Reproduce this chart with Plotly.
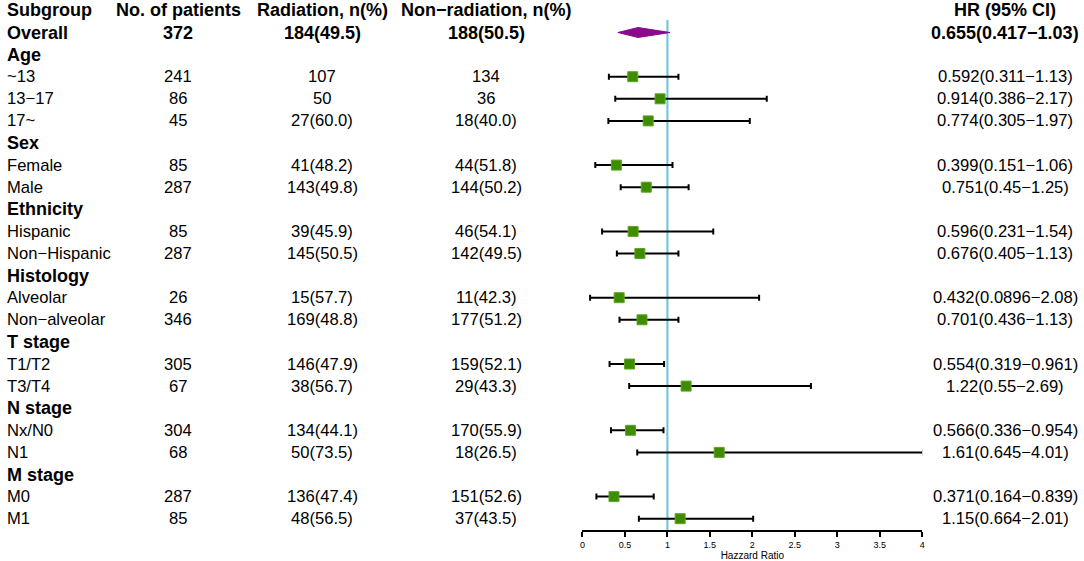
import plotly.graph_objects as go

# ---------------- data ----------------
headers = ["Subgroup", "No. of patients", "Radiation, n(%)", "Non\u2212radiation, n(%)", "HR (95% CI)"]

subgroups = ["Overall", "Age", "~13", "13\u221217", "17~", "Sex", "Female", "Male",
             "Ethnicity", "Hispanic", "Non\u2212Hispanic", "Histology", "Alveolar", "Non\u2212alveolar",
             "T stage", "T1/T2", "T3/T4", "N stage", "Nx/N0", "N1", "M stage", "M0", "M1"]
is_group = [False, True, False, False, False, True, False, False,
            True, False, False, True, False, False,
            True, False, False, True, False, False, True, False, False]
patients = ["372", "", "241", "86", "45", "", "85", "287",
            "", "85", "287", "", "26", "346",
            "", "305", "67", "", "304", "68", "", "287", "85"]
radiation = ["184(49.5)", "", "107", "50", "27(60.0)", "", "41(48.2)", "143(49.8)",
             "", "39(45.9)", "145(50.5)", "", "15(57.7)", "169(48.8)",
             "", "146(47.9)", "38(56.7)", "", "134(44.1)", "50(73.5)", "", "136(47.4)", "48(56.5)"]
nonradiation = ["188(50.5)", "", "134", "36", "18(40.0)", "", "44(51.8)", "144(50.2)",
                "", "46(54.1)", "142(49.5)", "", "11(42.3)", "177(51.2)",
                "", "159(52.1)", "29(43.3)", "", "170(55.9)", "18(26.5)", "", "151(52.6)", "37(43.5)"]
hr = [0.655, None, 0.592, 0.914, 0.774, None, 0.399, 0.751,
      None, 0.596, 0.676, None, 0.432, 0.701,
      None, 0.554, 1.22, None, 0.566, 1.61, None, 0.371, 1.15]
lower = [0.417, None, 0.311, 0.386, 0.305, None, 0.151, 0.45,
         None, 0.231, 0.405, None, 0.0896, 0.436,
         None, 0.319, 0.55, None, 0.336, 0.645, None, 0.164, 0.664]
upper = [1.03, None, 1.13, 2.17, 1.97, None, 1.06, 1.25,
         None, 1.54, 1.13, None, 2.08, 1.13,
         None, 0.961, 2.69, None, 0.954, 4.01, None, 0.839, 2.01]

x_ticks = [0, 0.5, 1, 1.5, 2, 2.5, 3, 3.5, 4]
x_ticktext = ["0", "0.5", "1", "1.5", "2", "2.5", "3", "3.5", "4"]

# ---------------- layout constants ----------------
W, H = 1084, 561
FONT = "Liberation Sans, Arial, sans-serif"
NORMAL = 16.6
BOLD = 18
col_x = [2, 176, 321, 486, 1008]          # pixel positions of columns
col_anchor = ["left", "center", "center", "center", "center"]
row_px0, row_step = 10.4, 22.1
r_top = -row_px0 / row_step
r_bot = r_top + H / row_step

rows = list(range(1, len(subgroups) + 1))

fig = go.Figure()

# squares + CI
data_idx = [i for i in range(1, len(subgroups)) if hr[i] is not None]
xs = [hr[i] for i in data_idx]
ys = [rows[i] for i in data_idx]
plus = [upper[i] - hr[i] for i in data_idx]
minus = [hr[i] - lower[i] for i in data_idx]
fig.add_trace(go.Scatter(
    x=xs, y=ys, mode="markers",
    marker=dict(symbol="square", size=10, color="#3f8c00",
                line=dict(color="#5ea626", width=1)),
    error_x=dict(type="data", symmetric=False, array=plus, arrayminus=minus,
                 color="black", thickness=2, width=3),
    cliponaxis=False, showlegend=False, hoverinfo="skip"))

# overall diamond
dh = 0.226
fig.add_trace(go.Scatter(
    x=[lower[0], hr[0], upper[0], hr[0], lower[0]],
    y=[rows[0], rows[0] - dh, rows[0], rows[0] + dh, rows[0]],
    mode="lines", fill="toself", fillcolor="#8b0a8b",
    line=dict(color="#8b0a8b", width=1), showlegend=False, hoverinfo="skip",
    cliponaxis=False))

# reference line at HR = 1
fig.add_shape(type="line", xref="x", yref="paper", x0=1, x1=1,
              y0=1 - 531 / H, y1=1 - 20 / H,
              line=dict(color="#66c6d6", width=2), layer="below")

# text table
anns = []
for c, htxt in enumerate(headers):
    anns.append(dict(x=col_x[c] / W, y=0, xref="paper", yref="y", text="<b>%s</b>" % htxt,
                     xanchor=col_anchor[c], yanchor="middle", showarrow=False,
                     font=dict(family=FONT, size=BOLD, color="black")))
for i, name in enumerate(subgroups):
    bold = is_group[i] or i == 0
    if hr[i] is not None:
        hrtxt = "%s(%s\u2212%s)" % (f"{hr[i]:.3g}", f"{lower[i]:.3g}", f"{upper[i]:.3g}")
    else:
        hrtxt = ""
    cells = [name, patients[i], radiation[i], nonradiation[i], hrtxt]
    for c, t in enumerate(cells):
        if not t:
            continue
        anns.append(dict(x=col_x[c] / W, y=rows[i], xref="paper", yref="y",
                         text=("<b>%s</b>" % t) if bold else t,
                         xanchor=col_anchor[c], yanchor="middle", showarrow=False,
                         font=dict(family=FONT, size=BOLD if bold else NORMAL, color="black")))

fig.update_layout(
    width=W, height=H, margin=dict(l=0, r=0, t=0, b=0),
    paper_bgcolor="white", plot_bgcolor="white",
    annotations=anns,
    xaxis=dict(domain=[582.7 / W, 924.3 / W], range=[0, 4], anchor="free",
               position=1 - 531 / H,
               tickvals=x_ticks, ticktext=x_ticktext,
               showline=True, linecolor="black", linewidth=2,
               ticks="outside", ticklen=5, tickwidth=2, tickcolor="black",
               showgrid=False, zeroline=False,
               tickfont=dict(family=FONT, size=9, color="black"),
               title=dict(text="Hazzard Ratio", standoff=1,
                          font=dict(family=FONT, size=10, color="black"))),
    yaxis=dict(domain=[0, 1], range=[r_bot, r_top], visible=False,
               showgrid=False, zeroline=False),
)

fig.write_html("out.html",
               config={"displayModeBar": False},
               post_script="document.documentElement.style.margin='0';"
                           "document.body.style.margin='0';"
                           "document.body.style.overflow='hidden';")
